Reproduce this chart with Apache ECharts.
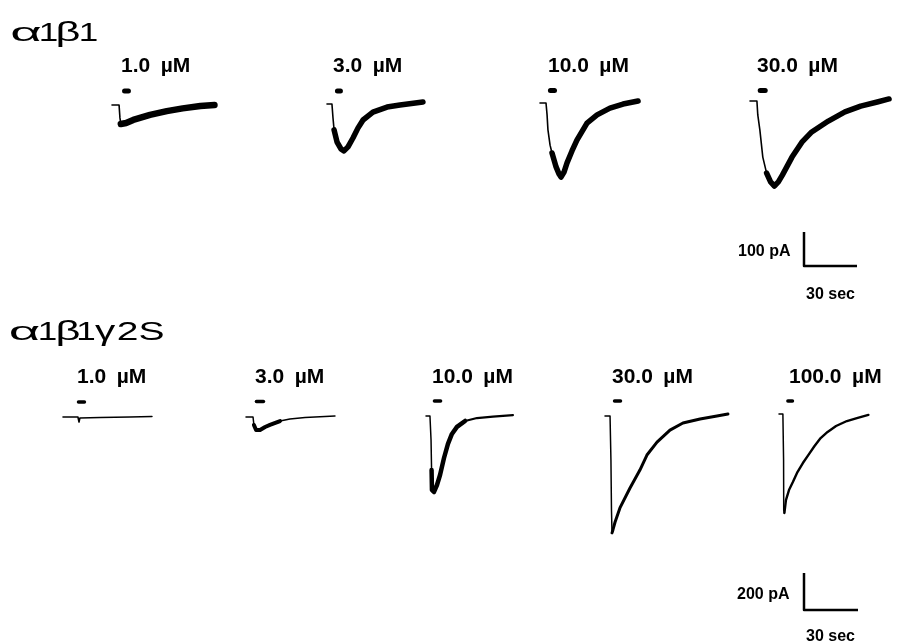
<!DOCTYPE html>
<html>
<head>
<meta charset="utf-8">
<script src="https://cdn.jsdelivr.net/npm/echarts@6/dist/echarts.min.js"></script>
<style>
  html, body { margin: 0; padding: 0; background: #fff; }
  #chart { width: 897px; height: 644px; }
</style>
</head>
<body>
<div id="chart"></div>
<script>
// ---------------- DATA (time in s, current in pA; inward current negative) ----------------
const TOP_TITLE = ['α', '1', 'β', '1'];
const BOT_TITLE = ['α', '1', 'β', '1', 'γ', '2', 'S'];
const TOP_CONC = ['1.0\u2002µM', '3.0\u2002µM', '10.0\u2002µM', '30.0\u2002µM'];
const BOT_CONC = ['1.0\u2002µM', '3.0\u2002µM', '10.0\u2002µM', '30.0\u2002µM', '100.0\u2002µM'];

// α1β1 traces
const top_1 = [[0,0],[4,0],[4.5,-38],[5,-56],[8,-53],[12,-44],[21.5,-29],[31,-18],[40,-10],[50,-3],[58,0]];
const top_3 = [[0,0],[2.8,0],[3.4,-41],[4,-76],[5.7,-112],[7.9,-132],[9.6,-138],[11.9,-126],[14.7,-100],[17.5,-71],[20.4,-47],[26,-24],[34,-9],[41.3,-3],[54.3,6]];
const top_10 = [[0,0],[3.4,0],[4,-35],[4.5,-79],[5.7,-124],[6.8,-147],[9.1,-188],[10.8,-209],[11.9,-218],[13.6,-203],[15.3,-176],[18.1,-141],[20.9,-109],[26.6,-59],[32.3,-35],[39.6,-15],[47,-3],[55.5,6]];
const top_30 = [[0,0],[4,0],[4.5,-41],[5.7,-85],[7.4,-165],[9.6,-212],[11.9,-238],[14.1,-250],[16.4,-238],[18.7,-218],[24.3,-165],[30,-121],[35.7,-91],[45.3,-59],[54.9,-32],[64,-15],[73.6,-3],[80.4,6]];

// α1β1γ2S traces
const bot_1 = [[0,0],[8.3,0],[8.9,-27],[9.4,-5],[20.6,-3],[37.2,0],[49.4,3]];
const bot_3 = [[0,0],[3.9,0],[4.4,-43],[5.6,-70],[7.8,-70],[10.6,-54],[13.3,-43],[18.9,-22],[24.4,-11],[32.8,-3],[49.4,5]];
const bot_10 = [[0,0],[2.2,0],[2.8,-130],[3.1,-292],[3.3,-400],[4.4,-411],[6.1,-373],[7.8,-319],[10,-227],[12.2,-151],[14.4,-97],[17.2,-59],[21.7,-27],[28.3,-11],[37.2,-3],[48.3,5]];
const bot_30 = [[0,0],[2.8,0],[3.3,-238],[3.6,-508],[3.9,-632],[4.4,-616],[5.6,-573],[8.3,-497],[13.9,-389],[19.4,-292],[23.3,-211],[28.9,-141],[36.1,-76],[43.3,-38],[52.8,-16],[62.2,0],[68.3,11]];
const bot_100 = [[0,0],[2.8,0],[3.3,-249],[3.4,-519],[3.9,-535],[5,-465],[7.2,-411],[10,-368],[13.3,-314],[17.2,-265],[21.1,-222],[25.6,-173],[30,-130],[35,-97],[41.1,-65],[48.9,-38],[56.1,-22],[64.4,-5]];

// agonist application bars: [start s, end s, level pA]
const TOP_APPS = [[7.1,9.3,41],[5.9,7.6,38],[5.9,8.2,37],[5.9,8.8,31]];
const BOT_APPS = [[8.6,11.9,81],[5.8,9.7,84],[4.7,8.1,81],[5.3,8.6,81],[6.4,9.7,70]];

// scale bars
const SCALE_TOP = [[0,100],[0,0],[30,0]];
const SCALE_BOT = [[0,200],[0,0],[30,0]];
const SCALE_TOP_LABELS = ['100 pA', '30 sec'];
const SCALE_BOT_LABELS = ['200 pA', '30 sec'];

// ---------------- LAYOUT / STYLE ----------------
const TOP_TRACES = [top_1, top_3, top_10, top_30];
const BOT_TRACES = [bot_1, bot_3, bot_10, bot_30, bot_100];
const TOP_POS = [[112,105],[327,104],[540,103],[750,101]];
const BOT_POS = [[63,417],[246,417],[426,416],[605,416],[779,414]];
// [thickFromIdx, thickToIdx, thinWidth, thickWidth, tailWidth]
const TOP_STYLE = [[3,10,1.6,6.5,6],[3,14,1.6,5.5,4],[5,17,1.6,5.5,4],[5,17,1.6,5.5,4]];
const BOT_STYLE = [[0,6,1.5,1.6,1.6],[2,7,1.5,4,1.6],[3,12,1.5,4.5,2.2],[4,16,1.5,3,3],[4,17,1.5,2.4,2.4]];
const TOP_LABEL_POS = [121,333,548,757];
const BOT_LABEL_POS = [77,255,432,612,789];
// title glyph layout: [centerX, fontSize, scaleX]
const TOP_TITLE_LAYOUT = [[26,26,2.1],[48.5,26,1.35],[68,28,1.55],[88.5,26,1.35]];
const BOT_TITLE_LAYOUT = [[24.5,26,2.1],[47.5,26,1.35],[68,28,1.55],[86,26,1.35],[105,27,1.5],[127.5,26,1.5],[151.5,26,1.5]];

const PXS_TOP = 53/30, PXA_TOP = 34/100;
const PXS_BOT = 54/30, PXA_BOT = 37/200;
const XR = [0, 85];
const YR_TOP = [-300, 60], YR_BOT = [-700, 120];

const grids = [], xAxes = [], yAxes = [], series = [], graphics = [];

function addGrid(left, baseline, pxS, pxA, yr, xr) {
  const idx = grids.length;
  grids.push({ left: left, top: baseline - yr[1] * pxA,
    width: (xr[1] - xr[0]) * pxS, height: (yr[1] - yr[0]) * pxA, show: false, containLabel: false });
  xAxes.push({ type: 'value', gridIndex: idx, min: xr[0], max: xr[1], show: false });
  yAxes.push({ type: 'value', gridIndex: idx, min: yr[0], max: yr[1], show: false });
  return idx;
}
function line(idx, data, width, cap) {
  series.push({ type: 'line', xAxisIndex: idx, yAxisIndex: idx, data: data,
    symbol: 'none', showSymbol: false, clip: false, silent: true, animation: false,
    lineStyle: { color: '#000', width: width, cap: cap || 'round', join: 'round' } });
}
function addTrace(idx, data, st) {
  const a = st[0], b = st[1];
  if (a > 0) line(idx, data.slice(0, a + 1), st[2]);
  line(idx, data.slice(a, b + 1), st[3]);
  if (b < data.length - 1) line(idx, data.slice(b), st[4]);
}
function text(str, x, baseline, fs, weight, scaleX, align) {
  graphics.push({ type: 'text', x: x, y: baseline - 0.35 * fs, scaleX: scaleX || 1, silent: true,
    style: { text: str, font: weight + ' ' + fs + 'px "Liberation Sans", Arial, sans-serif',
      fill: '#000', align: align || 'left', verticalAlign: 'middle',
      textAlign: align || 'left', textVerticalAlign: 'middle' } });
}

TOP_TRACES.forEach(function (tr, i) {
  const g = addGrid(TOP_POS[i][0], TOP_POS[i][1], PXS_TOP, PXA_TOP, YR_TOP, XR);
  addTrace(g, tr, TOP_STYLE[i]);
  const ap = TOP_APPS[i];
  line(g, [[ap[0], ap[2]], [ap[1], ap[2]]], 5);
  text(TOP_CONC[i], TOP_LABEL_POS[i], 74, 21, 'bold');
});
BOT_TRACES.forEach(function (tr, i) {
  const g = addGrid(BOT_POS[i][0], BOT_POS[i][1], PXS_BOT, PXA_BOT, YR_BOT, XR);
  addTrace(g, tr, BOT_STYLE[i]);
  const ap = BOT_APPS[i];
  line(g, [[ap[0], ap[2]], [ap[1], ap[2]]], 3.5);
  text(BOT_CONC[i], BOT_LABEL_POS[i], 385, 21, 'bold');
});

const gs1 = addGrid(804, 266, PXS_TOP, PXA_TOP, [0, 100], [0, 30]);
line(gs1, SCALE_TOP, 2.5, 'butt');
const gs2 = addGrid(804, 610, PXS_BOT, PXA_BOT, [0, 200], [0, 30]);
line(gs2, SCALE_BOT, 2.5, 'butt');

TOP_TITLE.forEach(function (ch, i) {
  const L = TOP_TITLE_LAYOUT[i];
  text(ch, L[0], 43, L[1], 'normal', L[2], 'center');
});
BOT_TITLE.forEach(function (ch, i) {
  const L = BOT_TITLE_LAYOUT[i];
  text(ch, L[0], 342, L[1], 'normal', L[2], 'center');
});
text(SCALE_TOP_LABELS[0], 738, 257, 16, 'bold');
text(SCALE_TOP_LABELS[1], 806, 300, 16, 'bold');
text(SCALE_BOT_LABELS[0], 737, 600, 16, 'bold');
text(SCALE_BOT_LABELS[1], 806, 642, 16, 'bold');

const chart = echarts.init(document.getElementById('chart'), null, { renderer: 'canvas' });
chart.setOption({
  backgroundColor: '#fff',
  animation: false,
  grid: grids, xAxis: xAxes, yAxis: yAxes, series: series,
  graphic: graphics
});
</script>
</body>
</html>
